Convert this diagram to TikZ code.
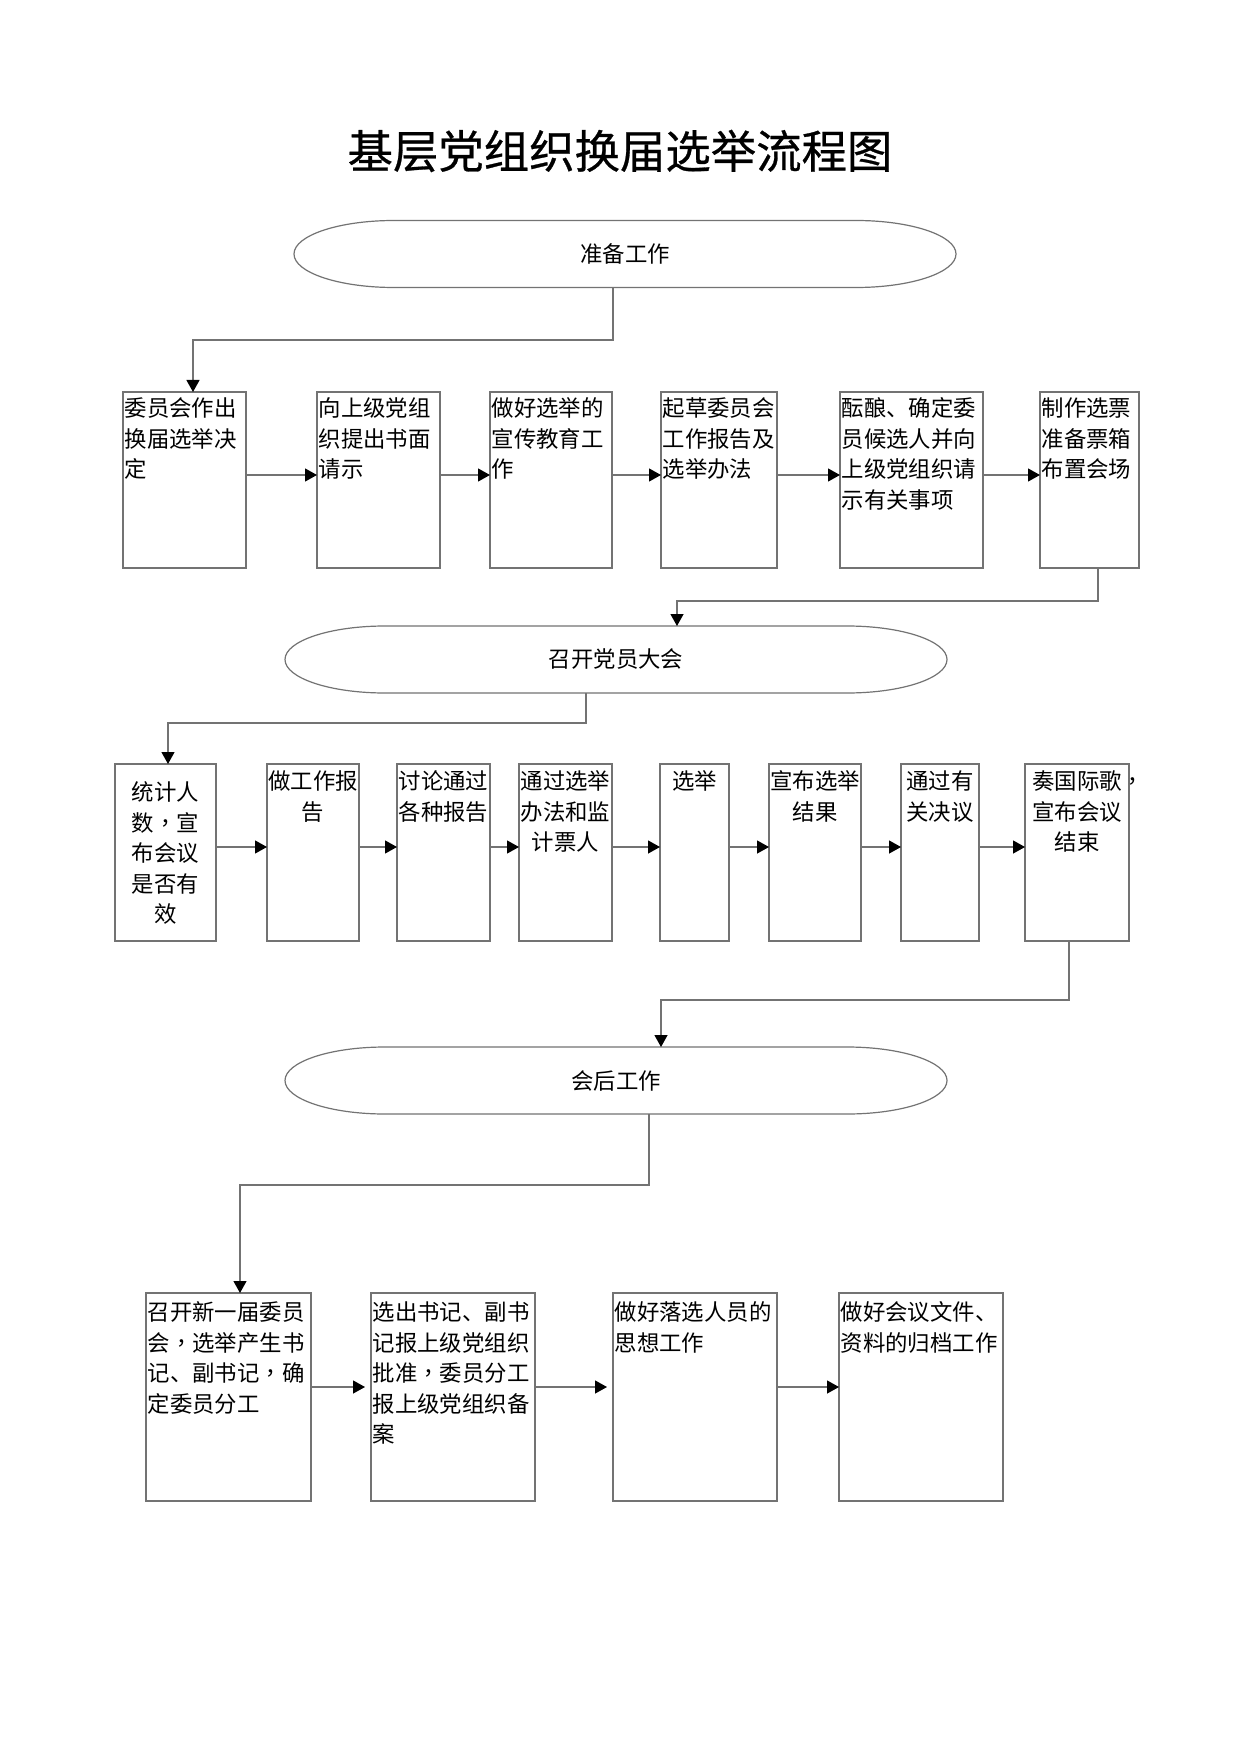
\documentclass[tikz,border=0pt]{standalone}
\usepackage{fontspec}
\setmainfont{Noto Sans CJK SC}
\newfontfamily\tcfont{Noto Sans CJK TC}
\newfontfamily\titlefont[FakeBold=0.6]{Noto Sans CJK SC}
\usetikzlibrary{arrows.meta,calc}
\newcommand\qcomma{{\tcfont ，}}
\newcommand\mkbox[5]{\node[boxst, minimum width={(#4-#2)*0.5pt}, minimum height={(#5-#3)*0.5pt}] (#1) at ({(#2+#4)/2},{(#3+#5)/2}) {};}
\newcommand\capsule[1]{\draw[line] ([xshift=50pt]#1.north west) -- ([xshift=-50pt]#1.north east) arc[start angle=90,end angle=-90,x radius=50pt,y radius=16.75pt] -- ([xshift=50pt]#1.south west) arc[start angle=270,end angle=90,x radius=50pt,y radius=16.75pt] -- cycle;}
\begin{document}
\begin{tikzpicture}[x=0.5pt,y=-0.5pt,
  line/.style={draw=black!55, line width=0.6pt},
  arr/.style={line, -{Triangle[length=6pt,width=6.5pt,color=black]}},
  boxst/.style={draw=black!55, line width=0.6pt, rectangle, inner sep=0pt, outer sep=0pt},
  capst/.style={rectangle, inner sep=0pt, outer sep=0pt, minimum width=331pt, minimum height=33.5pt, font=\fontsize{11.2pt}{15.25pt}\selectfont},
  txt/.style={inner sep=0pt, outer sep=0pt, font=\fontsize{11.2pt}{15.25pt}\selectfont},
  ltxt/.style={txt, align=left, anchor=north west},
  ctxt/.style={txt, align=center, anchor=north}]
\useasboundingbox (0,0) rectangle (1240,1754);
\fill[white] (0,0) rectangle (1240,1754);

\node[inner sep=0pt, font=\titlefont\fontsize{22.7pt}{26pt}\selectfont] (title) at (620,151) {基层党组织换届选举流程图};

% ---- section 1
\node[capst] (e1) at (625,254) {准备工作};
\capsule{e1}
\mkbox{b11}{123}{392}{246}{568}
\mkbox{b12}{317}{392}{440}{568}
\mkbox{b13}{490}{392}{612}{568}
\mkbox{b14}{661}{392}{777}{568}
\mkbox{b15}{840}{392}{983}{568}
\mkbox{b16}{1040}{392}{1139}{568}
\node[ltxt] (t11) at ([xshift=0.8pt,yshift=-3pt]b11.north west) {委员会作出\\换届选举决\\定};
\node[ltxt] (t12) at ([xshift=0.8pt,yshift=-3pt]b12.north west) {向上级党组\\织提出书面\\请示};
\node[ltxt] (t13) at ([xshift=0.8pt,yshift=-3pt]b13.north west) {做好选举的\\宣传教育工\\作};
\node[ltxt] (t14) at ([xshift=0.8pt,yshift=-3pt]b14.north west) {起草委员会\\工作报告及\\选举办法};
\node[ltxt] (t15) at ([xshift=0.8pt,yshift=-3pt]b15.north west) {酝酿、确定委\\员候选人并向\\上级党组织请\\示有关事项};
\node[ltxt] (t16) at ([xshift=0.8pt,yshift=-3pt]b16.north west) {制作选票\\准备票箱\\布置会场};

\coordinate (j1) at (613,340); \coordinate (k1) at (193,0);
\draw[arr] (e1.south -| j1) -- (j1) -| (b11.north -| k1);
\coordinate (ya) at (0,475);
\draw[arr] (b11.east |- ya) -- (b12.west |- ya);
\draw[arr] (b12.east |- ya) -- (b13.west |- ya);
\draw[arr] (b13.east |- ya) -- (b14.west |- ya);
\draw[arr] (b14.east |- ya) -- (b15.west |- ya);
\draw[arr] (b15.east |- ya) -- (b16.west |- ya);

% ---- section 2
\node[capst] (e2) at (616,659.5) {召开党员大会};
\capsule{e2}
\coordinate (j2) at (1098,601); \coordinate (k2) at (677,0);
\draw[arr] (b16.south -| j2) -- (j2) -| (e2.north -| k2);

\mkbox{b21}{115}{764}{216}{941}
\mkbox{b22}{267}{764}{359}{941}
\mkbox{b23}{397}{764}{490}{941}
\mkbox{b24}{519}{764}{612}{941}
\mkbox{b25}{660}{764}{729}{941}
\mkbox{b26}{769}{764}{861}{941}
\mkbox{b27}{901}{764}{979}{941}
\mkbox{b28}{1025}{764}{1129}{941}
\node[ctxt] (t21) at ([yshift=-9pt]b21.north) {统计人\\数\qcomma 宣\\布会议\\是否有\\效};
\node[ctxt] (t22) at ([yshift=-3.5pt]b22.north) {做工作报\\告};
\node[ctxt] (t23) at ([yshift=-3.5pt]b23.north) {讨论通过\\各种报告};
\node[ctxt] (t24) at ([yshift=-3.5pt]b24.north) {通过选举\\办法和监\\计票人};
\node[ctxt] (t25) at ([yshift=-3.5pt]b25.north) {选举};
\node[ctxt] (t26) at ([yshift=-3.5pt]b26.north) {宣布选举\\结果};
\node[ctxt] (t27) at ([yshift=-3.5pt]b27.north) {通过有\\关决议};
\node[ctxt] (t28) at ([yshift=-3.5pt]b28.north) {奏国际歌\rlap{\qcomma}\\宣布会议\\结束};

\coordinate (j3) at (586,723); \coordinate (k3) at (168,0);
\draw[arr] (e2.south -| j3) -- (j3) -| (b21.north -| k3);
\coordinate (yb) at (0,847);
\draw[arr] (b21.east |- yb) -- (b22.west |- yb);
\draw[arr] (b22.east |- yb) -- (b23.west |- yb);
\draw[arr] (b23.east |- yb) -- (b24.west |- yb);
\draw[arr] (b24.east |- yb) -- (b25.west |- yb);
\draw[arr] (b25.east |- yb) -- (b26.west |- yb);
\draw[arr] (b26.east |- yb) -- (b27.west |- yb);
\draw[arr] (b27.east |- yb) -- (b28.west |- yb);

% ---- section 3
\node[capst] (e3) at (616,1080.5) {会后工作};
\capsule{e3}
\coordinate (j4) at (1069,1000); \coordinate (k4) at (661,0);
\draw[arr] (b28.south -| j4) -- (j4) -| (e3.north -| k4);

\mkbox{b31}{146}{1293}{311}{1501}
\mkbox{b32}{371}{1293}{535}{1501}
\mkbox{b33}{613}{1293}{777}{1501}
\mkbox{b34}{839}{1293}{1003}{1501}
\node[ltxt] (t31) at ([xshift=0.8pt,yshift=-4.5pt]b31.north west) {召开新一届委员\\会\qcomma 选举产生书\\记、副书记\qcomma 确\\定委员分工};
\node[ltxt] (t32) at ([xshift=0.8pt,yshift=-4.5pt]b32.north west) {选出书记、副书\\记报上级党组织\\批准\qcomma 委员分工\\报上级党组织备\\案};
\node[ltxt] (t33) at ([xshift=0.8pt,yshift=-4.5pt]b33.north west) {做好落选人员的\\思想工作};
\node[ltxt] (t34) at ([xshift=0.8pt,yshift=-4.5pt]b34.north west) {做好会议文件、\\资料的归档工作};

\coordinate (j5) at (649,1185); \coordinate (k5) at (240,0);
\draw[arr] (e3.south -| j5) -- (j5) -| (b31.north -| k5);
\coordinate (yc) at (0,1387);
\draw[arr] (b31.east |- yc) -- ([xshift=-3pt]b32.west |- yc);
\draw[arr] (b32.east |- yc) -- ([xshift=-3pt]b33.west |- yc);
\draw[arr] (b33.east |- yc) -- (b34.west |- yc);
\end{tikzpicture}
\end{document}
